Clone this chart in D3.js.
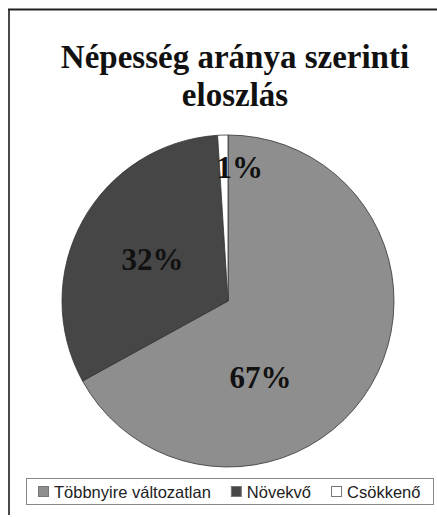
<!DOCTYPE html>
<html>
<head>
<meta charset="utf-8">
<script src="https://cdn.jsdelivr.net/npm/d3@7"></script>
<style>
  body { margin: 0; background: #fff; }
</style>
</head>
<body>
<div id="chart"></div>
<script>
// pie data
const categories = ['Többnyire változatlan', 'Növekvő', 'Csökkenő']
const shares = [67, 32, 1]
const titleLines = ['Népesség aránya szerinti', 'eloszlás']

const colors = ['#8e8e8e', '#464646', '#ffffff']
// where each percent label sits: angle (deg, clockwise from 12 o'clock), radius share
const labelAt = [[157, 0.5], [299, 0.52], [5, 0.81]]

const width = 437
const height = 517
const cx = 228
const cy = 301
const radius = 166

const svg = d3.select('#chart')
.append('svg')
.attr('width', width)
.attr('height', height)

// chart frame (only top and left edges fall inside the picture)
svg.append('line')
  .attr('x1', 9).attr('y1', 515).attr('x2', 9).attr('y2', 9.5)
  .attr('stroke', '#4a4a4a').attr('stroke-width', 2)
svg.append('line')
  .attr('x1', 8).attr('y1', 9.5).attr('x2', width).attr('y2', 9.5)
  .attr('stroke', '#222').attr('stroke-width', 2)

svg.append('text')
  .attr('x', 235)
  .attr('y', 68)
  .attr('text-anchor', 'middle')
  .attr('font-family', '"Liberation Serif", "Times New Roman", serif')
  .attr('font-weight', 'bold')
  .attr('font-size', 33)
  .attr('fill', '#111')
  .selectAll('tspan')
  .data(titleLines)
  .join('tspan')
  .attr('x', 235)
  .attr('dy', (d, i) => i === 0 ? 0 : 38)
  .text(d => d)

const data = categories.map((c, i) => ({ name: c, value: shares[i], color: colors[i], label: labelAt[i] }))

const pie = d3.pie()
.sort(null)
.value(d => d.value)

const arc = d3.arc()
.innerRadius(0)
.outerRadius(radius)

const g = svg.append('g')
.attr('transform', `translate(${cx}, ${cy})`)

const slices = pie(data)

g.selectAll('path')
  .data(slices)
  .join('path')
  .attr('d', arc)
  .attr('fill', d => d.data.color)
  .attr('stroke', '#333')
  .attr('stroke-width', 0.8)
  .attr('stroke-linejoin', 'round')

g.selectAll('text.pct')
  .data(slices)
  .join('text')
  .attr('class', 'pct')
  .attr('transform', d => {
    const [a, f] = d.data.label
    const p = d3.pointRadial(a * Math.PI / 180, radius * f)
    return `translate(${p[0]}, ${p[1]})`
  })
  .attr('dy', '0.34em')
  .attr('text-anchor', 'middle')
  .attr('font-family', '"Liberation Serif", "Times New Roman", serif')
  .attr('font-weight', 'bold')
  .attr('font-size', 31)
  .attr('fill', '#111')
  .text(d => d.data.value + '%')

// legend
const legend = svg.append('g')
legend.append('rect')
  .attr('x', 26.5).attr('y', 478.5)
  .attr('width', 407).attr('height', 26)
  .attr('fill', '#fff')
  .attr('stroke', '#888')
  .attr('stroke-width', 1)

let lx = 38
data.forEach(d => {
  legend.append('rect')
    .attr('x', lx + 0.5).attr('y', 486.5)
    .attr('width', 10).attr('height', 10)
    .attr('fill', d.color)
    .attr('stroke', '#777')
    .attr('stroke-width', 1)
  const t = legend.append('text')
    .attr('x', lx + 16)
    .attr('y', 498)
    .attr('font-family', '"Liberation Sans", Arial, sans-serif')
    .attr('font-size', 16.5)
    .attr('fill', '#222')
    .text(d.name)
  lx += 16 + t.node().getComputedTextLength() + 20
})
</script>
</body>
</html>
